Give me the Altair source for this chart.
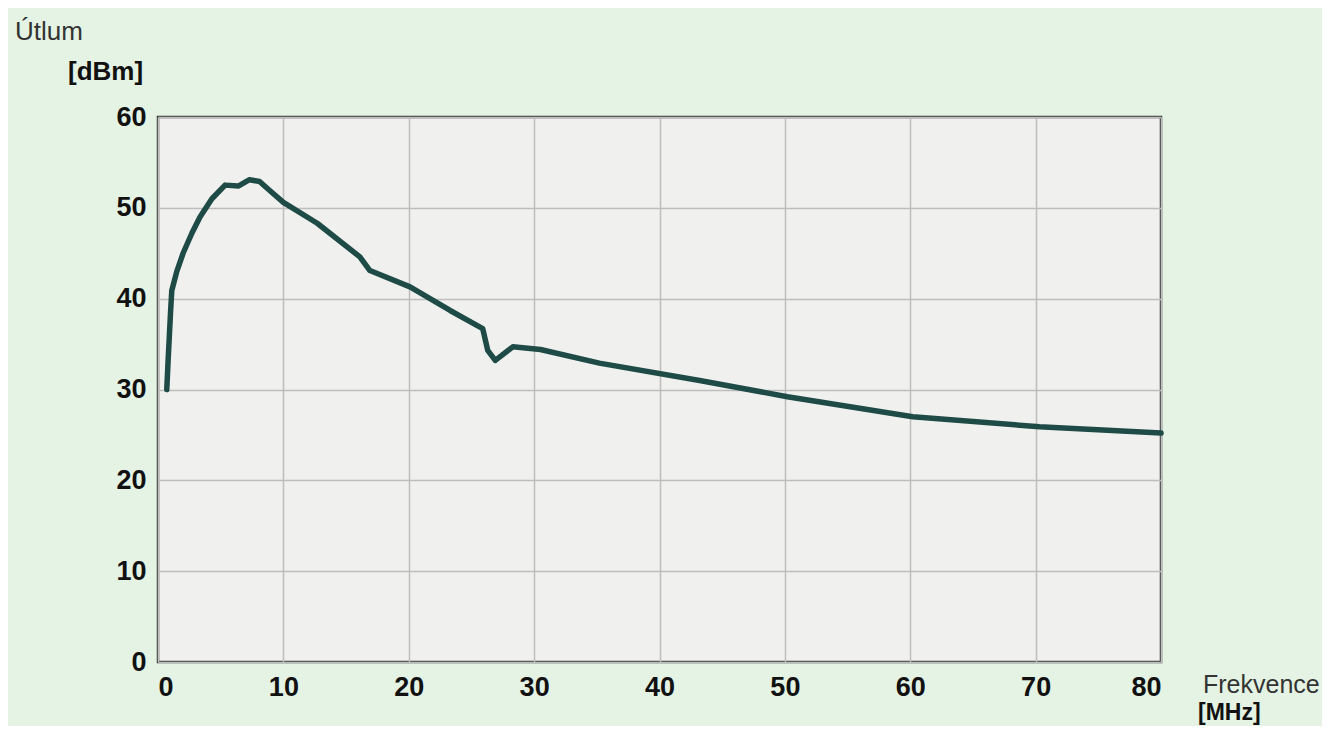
import altair as alt
import pandas as pd

freq_mhz = [0.7, 0.8, 1.0, 1.1, 1.5, 2.0, 2.7, 3.35, 4.3, 5.35, 6.4, 7.3, 8.1, 9.0, 10.0, 12.7, 16.1, 16.9,
            20.1, 23.3, 25.9, 26.3, 26.9, 28.3, 30.5, 35.2, 43.2, 50.2, 60.2, 70.3, 80.0]
attenuation_dbm = [30.0, 33.0, 38.5, 40.9, 43.0, 45.0, 47.2, 49.0, 51.0, 52.5, 52.4, 53.1, 52.9, 51.8, 50.6, 48.3,
                   44.6, 43.1, 41.3, 38.7, 36.7, 34.3, 33.2, 34.7, 34.4, 32.9, 31.0, 29.2, 27.0, 25.9, 25.2]

x_ticks = [0, 10, 20, 30, 40, 50, 60, 70, 80]
y_ticks = [0, 10, 20, 30, 40, 50, 60]

df = pd.DataFrame({"f": freq_mhz, "a": attenuation_dbm})

FONT = "Liberation Sans"
W, H = 1003, 545

line = alt.Chart(df).mark_line(color="#1f4b47", strokeWidth=5.5, strokeJoin="round", strokeCap="round").encode(
    x=alt.X("f:Q", scale=alt.Scale(domain=[0, 80], nice=False),
            axis=alt.Axis(values=x_ticks, title=None, grid=True, ticks=False, domain=False,
                          labelFont=FONT, labelFontSize=27, labelFontWeight="bold", labelColor="#111",
                          labelPadding=12, gridColor="#bdbdbd", gridWidth=1.5)),
    y=alt.Y("a:Q", scale=alt.Scale(domain=[0, 60], nice=False),
            axis=alt.Axis(values=y_ticks, title=None, grid=True, ticks=False, domain=False,
                          labelFont=FONT, labelFontSize=27, labelFontWeight="bold", labelColor="#111",
                          labelPadding=12, gridColor="#bdbdbd", gridWidth=1.5)),
)

def label(text, x, y, weight="normal", color="#333", size=26):
    return alt.Chart(pd.DataFrame({"t": [text]})).mark_text(
        align="left", baseline="alphabetic", font=FONT, fontSize=size, fontWeight=weight, color=color
    ).encode(text="t:N", x=alt.value(x), y=alt.value(y))

titles = (
    label("Útlum", -143, -77)
    + label("[dBm]", -90, -37, "bold", "#111")
    + label("Frekvence", 1045, 576, size=25)
    + label("[MHz]", 1040, 603, "bold", "#111", size=23)
)

chart = (line + titles).properties(
    width=W, height=H,
    background="#e4f3e3",
    padding={"left": 150, "top": 109, "right": 161, "bottom": 64},
    autosize=alt.AutoSizeParams(type="none"),
).configure_view(
    fill="#f0f1ef", stroke="#3a3a3a", strokeWidth=2.5
)

chart.save("out.html", embed_options={"renderer": "svg", "actions": False})
